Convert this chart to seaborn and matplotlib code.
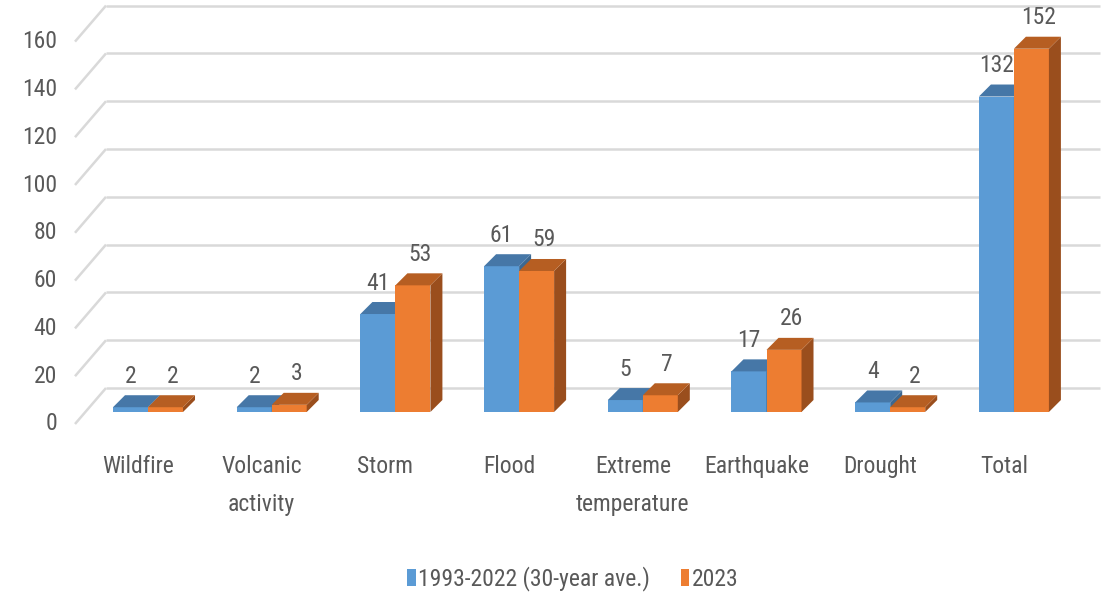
import matplotlib
matplotlib.use("Agg")
import matplotlib.pyplot as plt
from matplotlib import font_manager
from matplotlib.patches import Polygon, Patch
import pandas as pd
import seaborn as sns

# ---- data ----
categories = ["Wildfire", "Volcanic\nactivity", "Storm", "Flood",
              "Extreme\ntemperature", "Earthquake", "Drought", "Total"]
series_names = ["1993-2022 (30-year ave.)", "2023"]
avg_30yr = [2, 2, 41, 61, 5, 17, 4, 132]
year_2023 = [2, 3, 53, 59, 7, 26, 2, 152]
y_ticks = [0, 20, 40, 60, 80, 100, 120, 140, 160]

# ---- style ----
front_colors = ["#5B9BD5", "#ED7D31"]
top_colors = ["#4677A7", "#B65E22"]
side_colors = ["#3C6891", "#9A4E1D"]
text_color = "#595959"
grid_color = "#D9D9D9"

sns.set_style("white")

# narrow sans-serif if one is installed, otherwise a compact regular one
installed = {f.name for f in font_manager.fontManager.ttflist}
narrow = [n for n in ("Liberation Sans Narrow", "Roboto Condensed",
                      "Open Sans Condensed", "Noto Sans Condensed")
          if n in installed]
if narrow:
    base_font, FS = narrow[0], 17
else:
    base_font = "Liberation Sans" if "Liberation Sans" in installed else "DejaVu Sans"
    FS = 14.5
plt.rcParams["font.family"] = [base_font, "DejaVu Sans"]

W, H = 1117, 593
fig = plt.figure(figsize=(W / 100, H / 100), dpi=100)
ax = fig.add_axes([0, 0, 1, 1])

# pixels per category step / per value unit
PX_X, PX_Y = 123.7, 2.39
X0_PX, BASE_PX = 148, 412


def off(dx_px, dy_px):
    return dx_px / PX_X, dy_px / PX_Y


bar_dx, bar_dy = off(12, 12)        # depth of each column
wall_dx, wall_dy = off(21, 24)      # back wall behind the column fronts
front_dx, front_dy = off(-10, -12)  # front edge of the floor

df = pd.DataFrame({
    "category": categories * 2,
    "series": [series_names[0]] * len(categories) + [series_names[1]] * len(categories),
    "value": avg_30yr + year_2023,
})

sns.barplot(data=df, x="category", y="value", hue="series", order=categories,
            hue_order=series_names, palette=front_colors, width=0.566,
            saturation=1, linewidth=0, errorbar=None, legend=False, ax=ax)

ax.set_xlim(-X0_PX / PX_X, (W - X0_PX) / PX_X)
ax.set_ylim((BASE_PX - H) / PX_Y, BASE_PX / PX_Y)
ax.axis("off")

# back wall gridlines and floor diagonals
x_front_left = (75 - X0_PX) / PX_X
x_wall_left = x_front_left + (wall_dx - front_dx)
x_wall_right = (1100 - X0_PX) / PX_X
for v in y_ticks:
    ax.plot([x_wall_left, x_wall_right], [v + wall_dy, v + wall_dy],
            color=grid_color, lw=1.8, zorder=1, solid_capstyle="butt")
    ax.plot([x_front_left, x_wall_left], [v + front_dy, v + wall_dy],
            color=grid_color, lw=1.8, zorder=1, solid_capstyle="butt")
    ax.text((57 - X0_PX) / PX_X, v + front_dy, str(v), ha="right", va="center",
            fontsize=FS, color=text_color)

# category labels on the floor front
for i, cat in enumerate(categories):
    ax.text(i + front_dx, -18.0, cat, ha="center", va="top", fontsize=FS,
            color=text_color, linespacing=1.85)

# 3D faces for each column
n = len(categories)
bars = list(ax.patches)
order = sorted(range(len(bars)), key=lambda k: bars[k].get_x())
rank = {k: r for r, k in enumerate(order)}
for k, bar in enumerate(bars):
    s = k // n
    x0, w, h = bar.get_x(), bar.get_width(), bar.get_height()
    z = 3 + rank[k] * 0.01
    bar.set_zorder(z)
    top = Polygon([(x0, h), (x0 + w, h), (x0 + w + bar_dx, h + bar_dy),
                   (x0 + bar_dx, h + bar_dy)], closed=True,
                  facecolor=top_colors[s], edgecolor="none", zorder=z)
    side = Polygon([(x0 + w, 0), (x0 + w + bar_dx, bar_dy),
                    (x0 + w + bar_dx, h + bar_dy), (x0 + w, h)], closed=True,
                   facecolor=side_colors[s], edgecolor="none", zorder=z)
    ax.add_patch(side)
    ax.add_patch(top)
    ax.annotate(f"{h:g}", (x0 + w / 2, h), xytext=(0 if s == 0 else 7, 31),
                textcoords="offset pixels", ha="center", va="center",
                fontsize=FS, color=text_color, zorder=10)

handles = [Patch(facecolor=c, edgecolor="none") for c in front_colors]
fig.legend(handles, series_names, loc="center", bbox_to_anchor=(0.513, 14 / H),
           ncol=2, frameon=False, fontsize=FS, handlelength=0.35,
           handleheight=0.72, handletextpad=0.12, columnspacing=1.3,
           labelcolor=text_color)

fig.savefig("out.png", dpi=100)
